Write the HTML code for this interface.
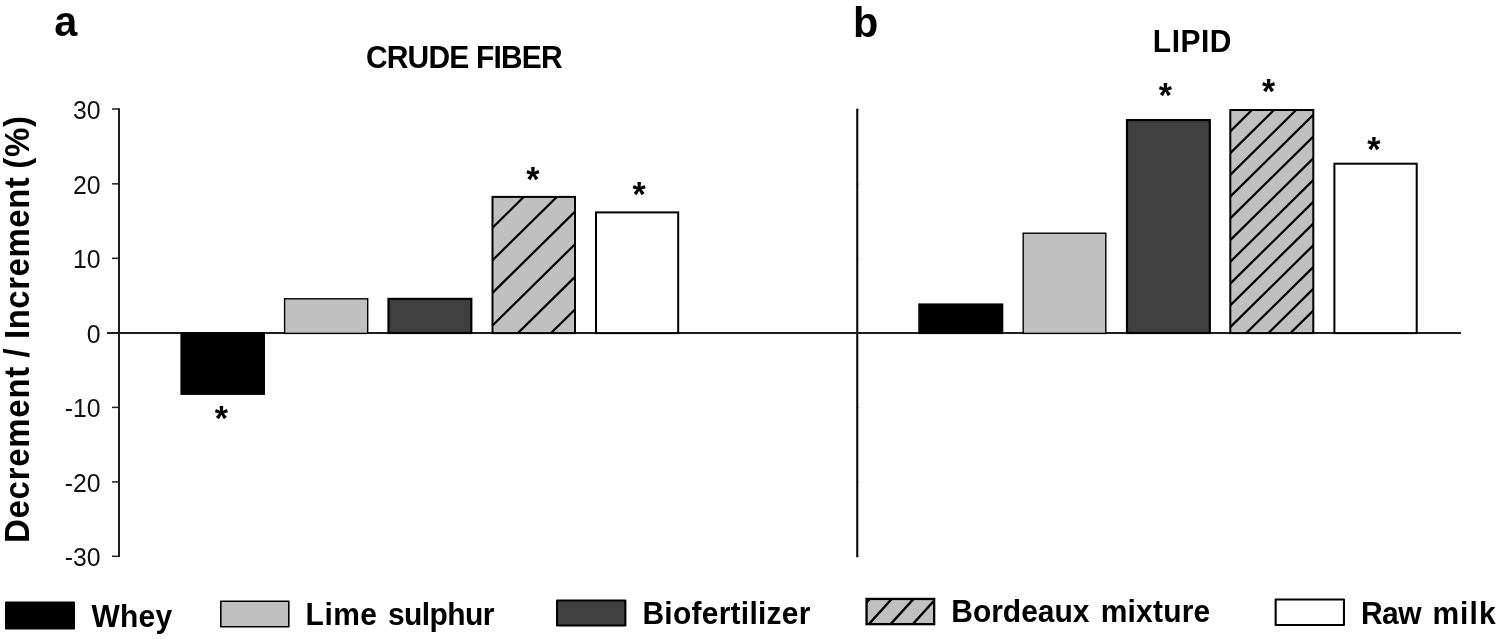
<!DOCTYPE html>
<html lang="en"><head><meta charset="utf-8"><title>Crude fiber and lipid</title>
<style>html,body{margin:0;padding:0;background:#fff;}body{width:1500px;height:639px;overflow:hidden;}svg{display:block;}</style>
</head><body>
<svg width="1500" height="639" viewBox="0 0 1500 639" font-family='"Liberation Sans", Arial, Helvetica, sans-serif'>
<rect x="0" y="0" width="1500" height="639" fill="#fff"/>
<g stroke="#1f1f1f" fill="none">
<line x1="119" y1="108.2" x2="119" y2="557.1" stroke-width="2"/>
<line x1="112" y1="109.0" x2="119" y2="109.0" stroke-width="1.5"/>
<line x1="112" y1="183.85" x2="119" y2="183.85" stroke-width="1.5"/>
<line x1="112" y1="258.3" x2="119" y2="258.3" stroke-width="1.5"/>
<line x1="112" y1="407.4" x2="119" y2="407.4" stroke-width="1.5"/>
<line x1="112" y1="481.9" x2="119" y2="481.9" stroke-width="1.5"/>
<line x1="112" y1="556.3" x2="119" y2="556.3" stroke-width="1.5"/>
<line x1="857.25" y1="108.7" x2="857.25" y2="557.3" stroke-width="2.1" stroke="#080808"/>
<line x1="858" y1="109.3" x2="859.2" y2="109.3" stroke-width="1" stroke="#888"/>
<line x1="858" y1="184.15" x2="859.2" y2="184.15" stroke-width="1" stroke="#888"/>
<line x1="858" y1="258.6" x2="859.2" y2="258.6" stroke-width="1" stroke="#888"/>
<line x1="858" y1="407.7" x2="859.2" y2="407.7" stroke-width="1" stroke="#888"/>
<line x1="858" y1="482.2" x2="859.2" y2="482.2" stroke-width="1" stroke="#888"/>
<line x1="858" y1="556.5999999999999" x2="859.2" y2="556.5999999999999" stroke-width="1" stroke="#888"/>
<line x1="107" y1="333.0" x2="1461" y2="333.0" stroke-width="2"/>
</g>
<text transform="translate(100.60,119.00) scale(1,1.015)" font-size="24.8" fill="#111" text-anchor="end">30</text>
<text transform="translate(100.60,193.85) scale(1,1.015)" font-size="24.8" fill="#111" text-anchor="end">20</text>
<text transform="translate(100.60,268.30) scale(1,1.015)" font-size="24.8" fill="#111" text-anchor="end">10</text>
<text transform="translate(100.60,343.00) scale(1,1.015)" font-size="24.8" fill="#111" text-anchor="end">0</text>
<text transform="translate(100.60,417.40) scale(1,1.015)" font-size="24.8" fill="#111" text-anchor="end">-10</text>
<text transform="translate(100.60,491.90) scale(1,1.015)" font-size="24.8" fill="#111" text-anchor="end">-20</text>
<text transform="translate(100.60,566.30) scale(1,1.015)" font-size="24.8" fill="#111" text-anchor="end">-30</text>
<rect x="181.15" y="332.75" width="83.10" height="61.40" fill="#000" stroke="#000" stroke-width="1.5"/>
<rect x="284.60" y="298.80" width="83.10" height="34.60" fill="#c0c0c0" stroke="#000" stroke-width="1.4"/>
<rect x="388.50" y="298.90" width="82.80" height="34.10" fill="#404040" stroke="#000" stroke-width="2.2"/>
<rect x="492.50" y="196.90" width="82.50" height="136.20" fill="#c0c0c0" stroke="#000" stroke-width="2.0"/>
<clipPath id="hL"><rect x="492.50" y="196.90" width="82.50" height="136.20"/></clipPath><g clip-path="url(#hL)" stroke="#000" stroke-width="2.2" fill="none"><line x1="484.80" y1="202.68" x2="587.80" y2="101.23"/><line x1="484.80" y1="235.28" x2="587.80" y2="133.82"/><line x1="484.80" y1="267.88" x2="587.80" y2="166.43"/><line x1="484.80" y1="300.48" x2="587.80" y2="199.03"/><line x1="484.80" y1="333.08" x2="587.80" y2="231.63"/><line x1="484.80" y1="365.68" x2="587.80" y2="264.23"/><line x1="484.80" y1="398.28" x2="587.80" y2="296.82"/><line x1="484.80" y1="430.88" x2="587.80" y2="329.43"/><line x1="484.80" y1="463.48" x2="587.80" y2="362.03"/></g>
<rect x="596.00" y="212.40" width="82.20" height="120.70" fill="#fff" stroke="#000" stroke-width="2.0"/>
<rect x="919.05" y="304.15" width="83.50" height="29.20" fill="#000" stroke="#000" stroke-width="1.5"/>
<rect x="1023.20" y="233.20" width="82.60" height="100.20" fill="#c0c0c0" stroke="#000" stroke-width="1.4"/>
<rect x="1127.00" y="120.10" width="82.80" height="212.90" fill="#404040" stroke="#000" stroke-width="2.2"/>
<rect x="1230.30" y="110.00" width="83.00" height="223.10" fill="#c0c0c0" stroke="#000" stroke-width="2.0"/>
<clipPath id="hR"><rect x="1230.30" y="110.00" width="83.00" height="223.10"/></clipPath><g clip-path="url(#hR)" stroke="#000" stroke-width="2.2" fill="none"><line x1="1223.00" y1="116.73" x2="1326.00" y2="15.27"/><line x1="1223.00" y1="138.48" x2="1326.00" y2="37.02"/><line x1="1223.00" y1="160.23" x2="1326.00" y2="58.77"/><line x1="1223.00" y1="181.98" x2="1326.00" y2="80.52"/><line x1="1223.00" y1="203.73" x2="1326.00" y2="102.27"/><line x1="1223.00" y1="225.48" x2="1326.00" y2="124.02"/><line x1="1223.00" y1="247.23" x2="1326.00" y2="145.77"/><line x1="1223.00" y1="268.98" x2="1326.00" y2="167.53"/><line x1="1223.00" y1="290.73" x2="1326.00" y2="189.28"/><line x1="1223.00" y1="312.48" x2="1326.00" y2="211.03"/><line x1="1223.00" y1="334.23" x2="1326.00" y2="232.78"/><line x1="1223.00" y1="355.98" x2="1326.00" y2="254.53"/><line x1="1223.00" y1="377.73" x2="1326.00" y2="276.28"/><line x1="1223.00" y1="399.48" x2="1326.00" y2="298.03"/><line x1="1223.00" y1="421.23" x2="1326.00" y2="319.78"/><line x1="1223.00" y1="442.98" x2="1326.00" y2="341.53"/></g>
<rect x="1334.40" y="163.70" width="82.30" height="169.40" fill="#fff" stroke="#000" stroke-width="2.0"/>
<text transform="translate(214.65,430.11) scale(1,1.035)" font-size="34" fill="#000" font-weight="bold">*</text>
<text transform="translate(526.35,190.71) scale(1,1.035)" font-size="34" fill="#000" font-weight="bold">*</text>
<text transform="translate(632.55,206.11) scale(1,1.035)" font-size="34" fill="#000" font-weight="bold">*</text>
<text transform="translate(1158.85,107.41) scale(1,1.035)" font-size="34" fill="#000" font-weight="bold">*</text>
<text transform="translate(1262.05,102.81) scale(1,1.035)" font-size="34" fill="#000" font-weight="bold">*</text>
<text transform="translate(1367.35,161.11) scale(1,1.035)" font-size="34" fill="#000" font-weight="bold">*</text>
<text transform="translate(365.90,68.20) scale(1,1.055)" font-size="30" fill="#000" font-weight="bold" textLength="196.8" lengthAdjust="spacing">CRUDE FIBER</text>
<text transform="translate(1152.80,51.70) scale(1,1.055)" font-size="30" fill="#000" font-weight="bold" textLength="78.7" lengthAdjust="spacing">LIPID</text>
<text transform="translate(54.20,36.20) scale(1,1.015)" font-size="41.5" fill="#000" font-weight="bold">a</text>
<text transform="translate(853.00,36.70) scale(1,1.015)" font-size="41.5" fill="#000" font-weight="bold">b</text>
<rect x="5.75" y="602.35" width="68.50" height="26.50" fill="#000" stroke="#000" stroke-width="1.5" stroke-linejoin="round"/>
<rect x="220.80" y="601.20" width="68.00" height="25.60" fill="#c0c0c0" stroke="#000" stroke-width="1.6" stroke-linejoin="round"/>
<rect x="557.05" y="600.45" width="68.30" height="25.10" fill="#404040" stroke="#000" stroke-width="2.1" stroke-linejoin="round"/>
<rect x="866.55" y="598.95" width="67.60" height="25.20" fill="#c0c0c0" stroke="#000" stroke-width="2.3"/>
<clipPath id="hleg"><rect x="867.40" y="599.80" width="65.90" height="23.50"/></clipPath><g clip-path="url(#hleg)" stroke="#000" stroke-width="2.4" fill="none"><line x1="844.40" y1="626.80" x2="877.40" y2="590.50"/><line x1="866.40" y1="626.80" x2="899.40" y2="590.50"/><line x1="888.20" y1="626.80" x2="921.20" y2="590.50"/><line x1="910.40" y1="626.80" x2="943.40" y2="590.50"/></g>
<rect x="1275.65" y="599.45" width="68.30" height="25.50" fill="#fff" stroke="#000" stroke-width="2.1" stroke-linejoin="round"/>
<text transform="translate(91.57,627.00) scale(1,1.055)" font-size="30" font-weight="bold" fill="#000"><tspan x="0.00" textLength="80.59" lengthAdjust="spacing">Whey</tspan></text>
<text transform="translate(305.59,625.00) scale(1,1.055)" font-size="30" font-weight="bold" fill="#000"><tspan x="0.00" textLength="71.43" lengthAdjust="spacing">Lime</tspan> <tspan x="82.35" textLength="106.51" lengthAdjust="spacing">sulphur</tspan></text>
<text transform="translate(642.39,624.00) scale(1,1.055)" font-size="30" font-weight="bold" fill="#000"><tspan x="0.00" textLength="168.06" lengthAdjust="spacing">Biofertilizer</tspan></text>
<text transform="translate(951.29,622.30) scale(1,1.055)" font-size="30" font-weight="bold" fill="#000"><tspan x="0.00" textLength="138.23" lengthAdjust="spacing">Bordeaux</tspan> <tspan x="149.43" textLength="109.60" lengthAdjust="spacing">mixture</tspan></text>
<text transform="translate(1360.99,623.60) scale(1,1.055)" font-size="30" font-weight="bold" fill="#000"><tspan x="0.00" textLength="60.55" lengthAdjust="spacing">Raw</tspan> <tspan x="71.43" textLength="63.15" lengthAdjust="spacing">milk</tspan></text>
<text transform="translate(28.90,543.01) rotate(-90) scale(1,1.075)" font-size="33" font-weight="bold" fill="#000"><tspan x="0.00" textLength="176.31" lengthAdjust="spacing">Decrement</tspan> <tspan x="185.49" textLength="9.54" lengthAdjust="spacing">/</tspan> <tspan x="204.00" textLength="161.81" lengthAdjust="spacing">Increment</tspan> <tspan x="374.36" textLength="52.59" lengthAdjust="spacing">(%)</tspan></text>
</svg>
</body></html>
